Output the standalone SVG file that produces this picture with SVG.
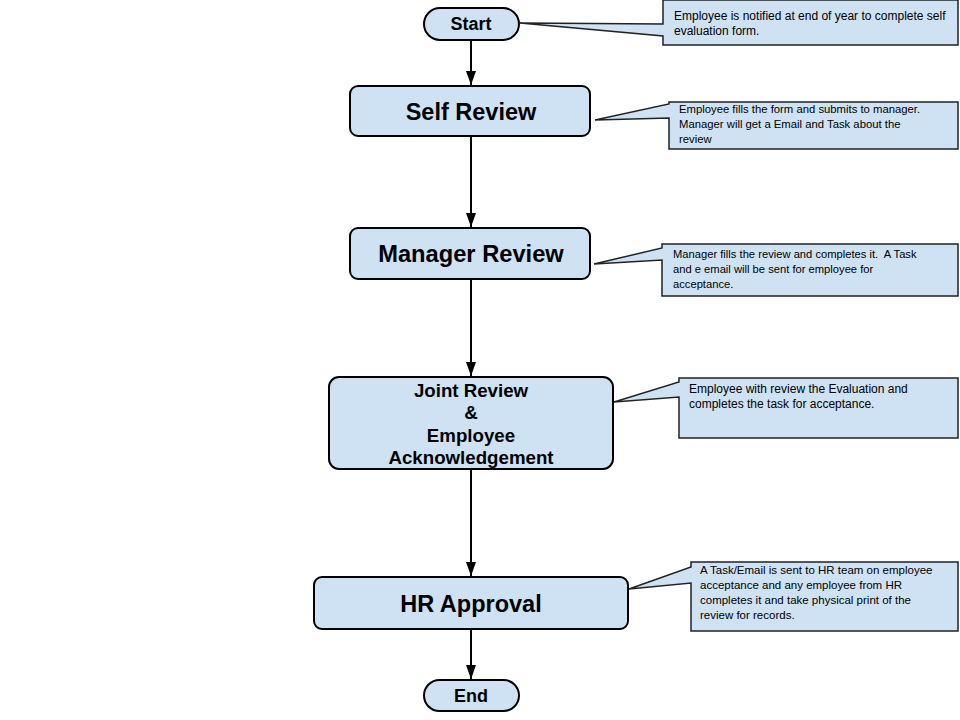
<svg xmlns="http://www.w3.org/2000/svg" width="960" height="720" viewBox="0 0 960 720">
<defs>
<marker id="ah" viewBox="0 0 14 10" refX="14" refY="5" markerWidth="14" markerHeight="10" markerUnits="userSpaceOnUse" orient="auto"><path d="M0,0 L14,5 L0,10 z" fill="#000"/></marker>
<style>
.node{fill:#cfe2f3;stroke:#000;stroke-width:2}
.lbl{font-family:"Liberation Sans",Arial,sans-serif;font-weight:bold;fill:#000;text-anchor:middle}
.call{fill:#cfe2f3;stroke:#222;stroke-width:1.5;stroke-linejoin:miter}
.ct{font-family:"Liberation Sans",Arial,sans-serif;fill:#000}
.conn{stroke:#000;stroke-width:2;fill:none}
</style>
</defs>
<rect width="960" height="720" fill="#fff"/>
<g id="connectors">
<line class="conn" x1="471" y1="40" x2="471" y2="85" marker-end="url(#ah)"/>
<line class="conn" x1="471" y1="136" x2="471" y2="227" marker-end="url(#ah)"/>
<line class="conn" x1="471" y1="279" x2="471" y2="376" marker-end="url(#ah)"/>
<line class="conn" x1="471" y1="469" x2="471" y2="576" marker-end="url(#ah)"/>
<line class="conn" x1="471" y1="629" x2="471" y2="679" marker-end="url(#ah)"/>
</g>
<g id="start">
<rect class="node" x="424" y="8" width="95" height="32" rx="16"/>
<text class="lbl" x="471" y="30" font-size="18">Start</text>
</g>
<g id="self-review">
<rect class="node" x="350" y="86" width="240" height="50" rx="8"/>
<text class="lbl" x="471" y="120" font-size="23.5">Self Review</text>
</g>
<g id="manager-review">
<rect class="node" x="350" y="228" width="240" height="51" rx="8"/>
<text class="lbl" x="471" y="262" font-size="23.7">Manager Review</text>
</g>
<g id="joint-review">
<rect class="node" x="329" y="377" width="284" height="92" rx="10"/>
<text class="lbl" x="471" y="397" font-size="18.7">Joint Review</text>
<text class="lbl" x="471" y="419" font-size="18.7">&amp;</text>
<text class="lbl" x="471" y="442" font-size="18.7">Employee</text>
<text class="lbl" x="471" y="464" font-size="18.7">Acknowledgement</text>
</g>
<g id="hr-approval">
<rect class="node" x="314" y="577" width="314" height="52" rx="8"/>
<text class="lbl" x="471" y="612" font-size="23.5">HR Approval</text>
</g>
<g id="end">
<rect class="node" x="424" y="680" width="95" height="31" rx="15.5"/>
<text class="lbl" x="471" y="702" font-size="18">End</text>
</g>
<g id="note-start">
<path class="call" d="M663,0 H958 V45 H663 V36 L520,23 L663,24 Z"/>
<text class="ct" x="674" y="20" font-size="12">Employee is notified at end of year to complete self</text>
<text class="ct" x="674" y="35" font-size="12">evaluation form.</text>
</g>
<g id="note-self">
<path class="call" d="M669,102 H958 V149 H669 V118 L595,120 L669,104 Z"/>
<text class="ct" x="679" y="113" font-size="11.3">Employee fills the form and submits to manager.</text>
<text class="ct" x="679" y="128" font-size="11.3">Manager will get a Email and Task about the</text>
<text class="ct" x="679" y="143" font-size="11.3">review</text>
</g>
<g id="note-manager">
<path class="call" d="M662,244 H958 V296 H662 V260 L594,264 L662,248 Z"/>
<text class="ct" x="673" y="258" font-size="11.2" xml:space="preserve">Manager fills the review and completes it.  A Task</text>
<text class="ct" x="673" y="273" font-size="11.2">and e email will be sent for employee for</text>
<text class="ct" x="673" y="288" font-size="11.2">acceptance.</text>
</g>
<g id="note-joint">
<path class="call" d="M679,378 H958 V438 H679 V397 L614,402 L679,382 Z"/>
<text class="ct" x="689" y="393" font-size="12">Employee with review the Evaluation and</text>
<text class="ct" x="689" y="408" font-size="12">completes the task for acceptance.</text>
</g>
<g id="note-hr">
<path class="call" d="M691,562 H958 V631 H691 V583 L629,589 L691,567 Z"/>
<text class="ct" x="700" y="574" font-size="11.5">A Task/Email is sent to HR team on employee</text>
<text class="ct" x="700" y="589" font-size="11.5">acceptance and any employee from HR</text>
<text class="ct" x="700" y="604" font-size="11.5">completes it and take physical print of the</text>
<text class="ct" x="700" y="619" font-size="11.5">review for records.</text>
</g>
</svg>
